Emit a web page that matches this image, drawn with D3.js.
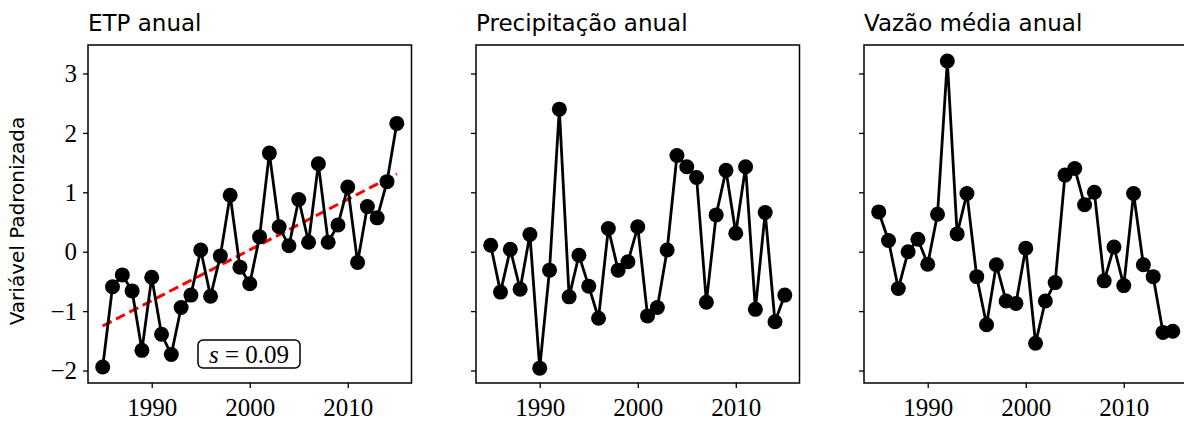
<!DOCTYPE html>
<html lang="pt">
  <head>
    <meta charset="UTF-8" />
    <title>Variáveis padronizadas</title>
    <style>
      body { margin: 0; background: #fff; }
      .tick text { font-family: "Liberation Serif", serif; font-size: 25px; fill: #000; }
      .tick line { stroke: #000; stroke-width: 1.3; }
      .domain { display: none; }
    </style>
  </head>
  <body>
    <svg id="svg" width="1184" height="426"></svg>
    <script src="https://d3js.org/d3.v7.min.js"></script>
    <script>
      // dados (1985-2015)
      const years = d3.range(1985, 2016);
      const etp = [-1.94, -0.59, -0.39, -0.66, -1.66, -0.43, -1.39, -1.73, -0.94, -0.73,
        0.03, -0.75, -0.07, 0.95, -0.26, -0.54, 0.25, 1.66, 0.42, 0.10,
        0.88, 0.16, 1.48, 0.16, 0.45, 1.09, -0.18, 0.76, 0.57, 1.18, 2.16];
      const precip = [0.11, -0.68, 0.04, -0.63, 0.29, -1.96, -0.31, 2.40, -0.76, -0.06,
        -0.58, -1.12, 0.39, -0.31, -0.17, 0.42, -1.08, -0.94, 0.03, 1.62,
        1.43, 1.25, -0.85, 0.62, 1.37, 0.31, 1.43, -0.97, 0.66, -1.18, -0.73];
      const vazao = [0.67, 0.19, -0.62, 0.00, 0.21, -0.21, 0.63, 3.21, 0.30, 0.98,
        -0.42, -1.23, -0.22, -0.83, -0.87, 0.06, -1.54, -0.83, -0.52, 1.29,
        1.40, 0.79, 1.00, -0.49, 0.08, -0.57, 0.98, -0.22, -0.42, -1.36, -1.34];
      const titles = ["ETP anual", "Precipitação anual", "Vazão média anual"];
      const xTicks = [1990, 2000, 2010];
      const yTicks = [-2, -1, 0, 1, 2, 3];
      // tendência da ETP (extremos da reta)
      const trendYears = [1985, 2015];
      const trendValues = [-1.25, 1.31];
      const slopeLabel = "0.09";

      const series = [etp, precip, vazao];
      const svg = d3.select("#svg");
      const lefts = [88, 476, 864];
      const w = 323.5, plotTop = 45, plotBottom = 383;

      const x = d3.scaleLinear().domain([1983.5, 2016.5]).range([0, w]);
      const y = d3.scaleLinear().domain([-2.21, 3.48]).range([plotBottom, plotTop]);
      const fmt = (d) => String(d).replace("-", "\u2212");

      series.forEach((vals, k) => {
        const g = svg.append("g").attr("transform", `translate(${lefts[k]},0)`);

        g.append("text")
          .attr("x", 0).attr("y", 31)
          .attr("font-family", "DejaVu Sans").attr("font-size", 23)
          .text(titles[k]);

        const xa = g.append("g").attr("transform", `translate(0,${plotBottom})`)
          .call(d3.axisBottom(x).tickValues(xTicks).tickFormat(d3.format("d")).tickSize(5).tickPadding(7));
        xa.selectAll(".tick text").attr("dy", "0.85em");
        const ya = g.append("g")
          .call(d3.axisLeft(y).tickValues(yTicks).tickFormat(k === 0 ? fmt : "").tickSize(5).tickPadding(6));
        ya.selectAll(".tick text").attr("dy", "0.33em");

        if (k === 0) {
          g.append("line")
            .attr("x1", x(trendYears[0])).attr("y1", y(trendValues[0]))
            .attr("x2", x(trendYears[1])).attr("y2", y(trendValues[1]))
            .attr("stroke", "#ff0000").attr("stroke-width", 3)
            .attr("stroke-dasharray", "10,5");
        }

        const line = d3.line().x((d, i) => x(years[i])).y((d) => y(d));
        g.append("path").datum(vals)
          .attr("d", line).attr("fill", "none")
          .attr("stroke", "#000").attr("stroke-width", 2.8);
        g.selectAll("circle").data(vals).enter().append("circle")
          .attr("cx", (d, i) => x(years[i])).attr("cy", (d) => y(d))
          .attr("r", 7.5).attr("fill", "#000");

        if (k === 0) {
          const box = g.append("g");
          box.append("rect")
            .attr("x", 110).attr("y", 340).attr("width", 102).attr("height", 28)
            .attr("rx", 5).attr("fill", "#fff").attr("stroke", "#000").attr("stroke-width", 1.5);
          const t = box.append("text").attr("x", 161).attr("y", 363)
            .attr("text-anchor", "middle")
            .attr("font-family", "Liberation Serif").attr("font-size", 25);
          t.append("tspan").attr("font-style", "italic").text("s");
          t.append("tspan").text(" = " + slopeLabel);
        }

        g.append("rect")
          .attr("x", 0).attr("y", plotTop).attr("width", w).attr("height", plotBottom - plotTop)
          .attr("fill", "none").attr("stroke", "#000").attr("stroke-width", 1.5);
      });

      svg.append("text")
        .attr("transform", "translate(24,221) rotate(-90)")
        .attr("text-anchor", "middle")
        .attr("font-family", "DejaVu Sans").attr("font-size", 20)
        .text("Variável Padronizada");
    </script>
  </body>
</html>
